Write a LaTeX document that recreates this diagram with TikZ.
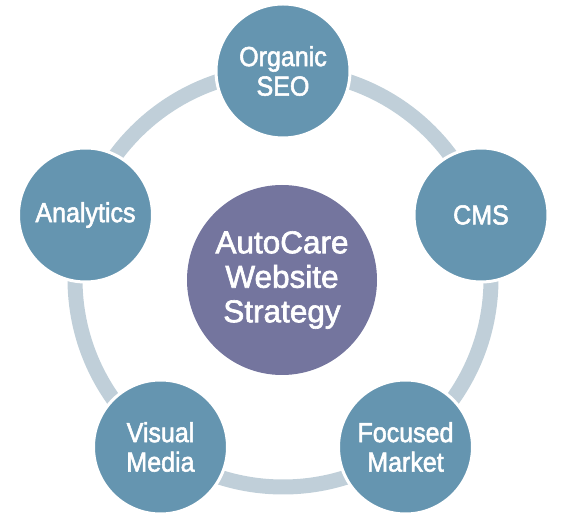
\documentclass[tikz,border=0pt]{standalone}
\usepackage{fontspec}
\setmainfont{Liberation Sans}
\newfontfamily\topicfont[FakeStretch=0.91, FakeBold=2]{Liberation Sans}
\newfontfamily\hubfont[FakeBold=2]{Liberation Sans}
\definecolor{SteelBlue}{RGB}{101, 149, 176}
\definecolor{Slate}{RGB}{116, 117, 158}
\definecolor{RingGray}{RGB}{192, 207, 217}
\usetikzlibrary{positioning}

\begin{document}
\begin{tikzpicture}[x=1pt, y=1pt, every node/.style={text=white, align=center},
        topic/.style={circle, draw=white, line width=3pt, fill=SteelBlue, minimum size=134pt, inner sep=0pt, font=\topicfont\fontsize{27.5}{29.5}\selectfont},
        hub/.style={circle, fill=Slate, minimum size=190pt, inner sep=0pt, font=\hubfont\fontsize{31.5}{34.5}\selectfont},
        ring/.style={draw=RingGray, line width=15pt}]
            \useasboundingbox (0,0) rectangle (565,519);
            \coordinate (mid) at (283,240);
            \node[hub] (hub) at (282,239) {AutoCare\\Website\\Strategy};

            \draw[ring] (mid) circle[radius=208pt];

            \node[topic] (seo) at (283,448) {Organic\\SEO};
            \node[topic] (cms) at (481,304) {CMS};
            \node[topic] (market) at (405.5,72) {Focused\\Market};
            \node[topic] (media) at (160.5,72) {Visual\\Media};
            \node[topic] (analytics) at (85.5,304) {Analytics};
        \end{tikzpicture}
\end{document}
